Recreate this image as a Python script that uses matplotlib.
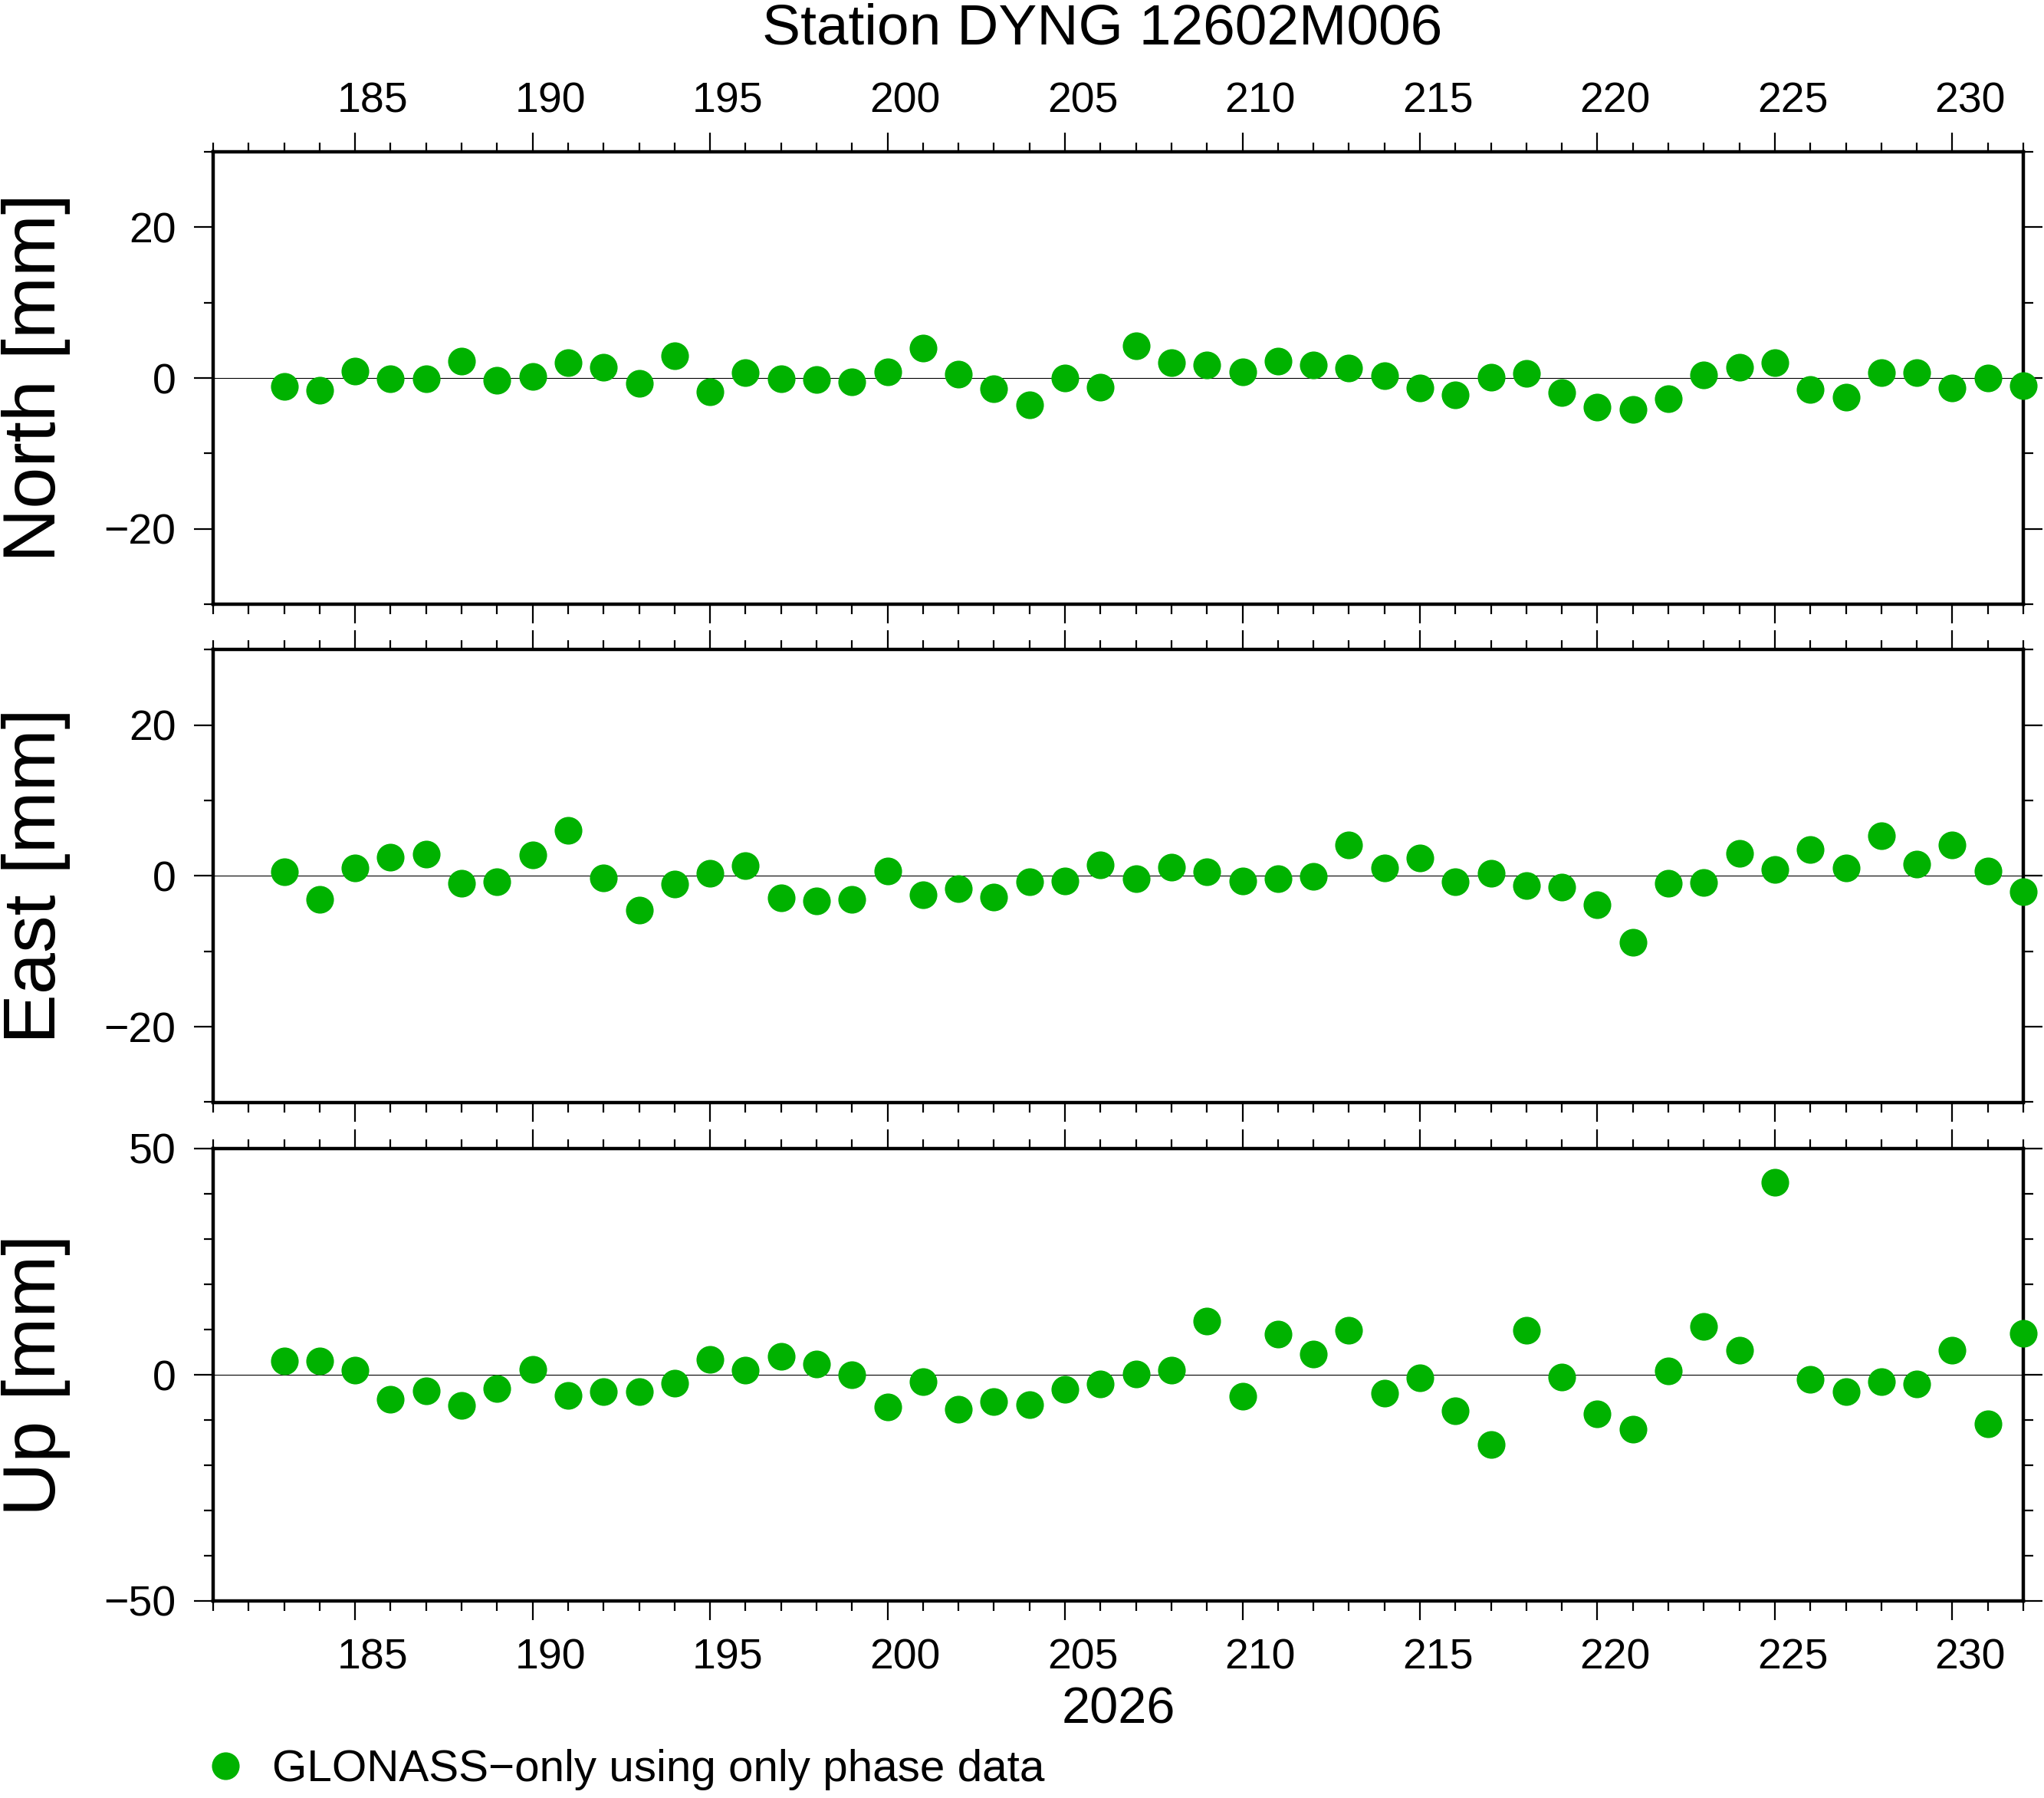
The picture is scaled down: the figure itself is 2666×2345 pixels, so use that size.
import matplotlib
matplotlib.use("Agg")
import matplotlib.pyplot as plt
from matplotlib.ticker import MultipleLocator, FixedLocator
from matplotlib.transforms import ScaledTranslation

plt.rcParams['font.family'] = ['Liberation Sans', 'DejaVu Sans']

days = list(range(183, 233))

north = [-1.1, -1.6, 0.9, -0.1, -0.1, 2.2, -0.3, 0.2, 2.0, 1.4,
         -0.7, 3.0, -1.8, 0.7, -0.1, -0.2, -0.5, 0.8, 4.0, 0.5,
         -1.4, -3.6, 0.0, -1.2, 4.3, 2.0, 1.7, 0.8, 2.2, 1.7,
         1.3, 0.3, -1.3, -2.2, 0.1, 0.6, -1.9, -3.9, -4.2, -2.7,
         0.4, 1.4, 2.0, -1.5, -2.5, 0.7, 0.7, -1.3, 0.0, -1.0]

east = [0.6, -3.1, 1.1, 2.5, 2.9, -1.0, -0.8, 2.8, 6.0, -0.3,
        -4.5, -1.1, 0.4, 1.4, -2.9, -3.3, -3.1, 0.7, -2.5, -1.7,
        -2.8, -0.8, -0.7, 1.5, -0.4, 1.2, 0.6, -0.7, -0.4, -0.1,
        4.1, 1.1, 2.4, -0.8, 0.4, -1.3, -1.5, -3.8, -8.8, -1.0,
        -0.9, 3.0, 0.9, 3.5, 1.1, 5.3, 1.6, 4.1, 0.7, -2.1]

up = [3.0, 3.1, 1.1, -5.4, -3.5, -6.7, -3.0, 1.2, -4.5, -3.8,
      -3.8, -1.8, 3.4, 1.1, 4.0, 2.4, 0.0, -7.2, -1.6, -7.7,
      -6.0, -6.6, -3.3, -2.0, 0.2, 1.1, 11.9, -4.7, 9.0, 4.6,
      9.9, -4.0, -0.6, -7.9, -15.5, 9.9, -0.5, -8.6, -12.1, 0.9,
      10.6, 5.5, 42.6, -1.0, -3.7, -1.6, -2.1, 5.5, -10.8, 9.2]

components = ['North', 'East', 'Up']
series = [north, east, up]
ylims = [30, 30, 50]
ymajor = [20, 20, 50]
day_ticks = list(range(185, 231, 5))
year_label = '2026'
title = 'Station DYNG 12602M006'
legend_label = 'GLONASS\u2212only using only phase data'

green = '#00b200'
W, H = 2666, 2345
fig = plt.figure(figsize=(W / 100, H / 100), dpi=100)

left = 278 / W
width = (2639 - 278) / W
height = 590 / H
tops = [198, 847.5, 1498]

# day labels sit in the middle of the day interval (GMT style)
half_day = (2639 - 278) / 51 / 2 / 100

axes = []
for i, (name, vals, lim, maj) in enumerate(zip(components, series, ylims, ymajor)):
    ax = fig.add_axes([left, 1 - (tops[i] + 590) / H, width, height])
    ax.axhline(0, color='black', lw=0.8, zorder=1)
    line, = ax.plot(days, vals, 'o', color=green, ms=26, mec='none',
                    clip_on=False, zorder=5)
    ax.set_xlim(181, 232)
    ax.set_ylim(-lim, lim)
    ax.xaxis.set_major_locator(FixedLocator(day_ticks))
    ax.xaxis.set_minor_locator(MultipleLocator(1))
    ax.yaxis.set_major_locator(MultipleLocator(maj))
    ax.yaxis.set_minor_locator(MultipleLocator(10))
    for s in ax.spines.values():
        s.set_linewidth(3.2)
    ax.tick_params(which='both', direction='out', top=True, right=True,
                   labelsize=40, width=1.6, pad=17)
    ax.tick_params(which='major', length=18)
    ax.tick_params(which='minor', length=9)
    ax.tick_params(axis='x', labelbottom=(i == 2), labeltop=(i == 0))
    for t in ax.xaxis.get_major_ticks(len(day_ticks)):
        t.label1.set_transform(t.label1.get_transform() +
                               ScaledTranslation(half_day, 0, fig.dpi_scale_trans))
        t.label2.set_transform(t.label2.get_transform() +
                               ScaledTranslation(half_day, -0.09, fig.dpi_scale_trans))
    fig.text(47 / W, 1 - (tops[i] + 295) / H, name + ' [mm]', rotation=90,
             ha='center', va='center', fontsize=70)
    axes.append(ax)

axes[2].set_xlabel(year_label, fontsize=48, labelpad=8)

fig.text(1438 / W, 1 - 57 / H, title, ha='center', va='baseline', fontsize=54)

fig.legend(handles=[line], labels=[legend_label], loc='center left',
           bbox_to_anchor=(265 / W, 1 - 2308 / H), frameon=False,
           fontsize=42, handlelength=1.0, handletextpad=0.55,
           borderpad=0, borderaxespad=0)

fig.savefig('out.png', dpi=100)
